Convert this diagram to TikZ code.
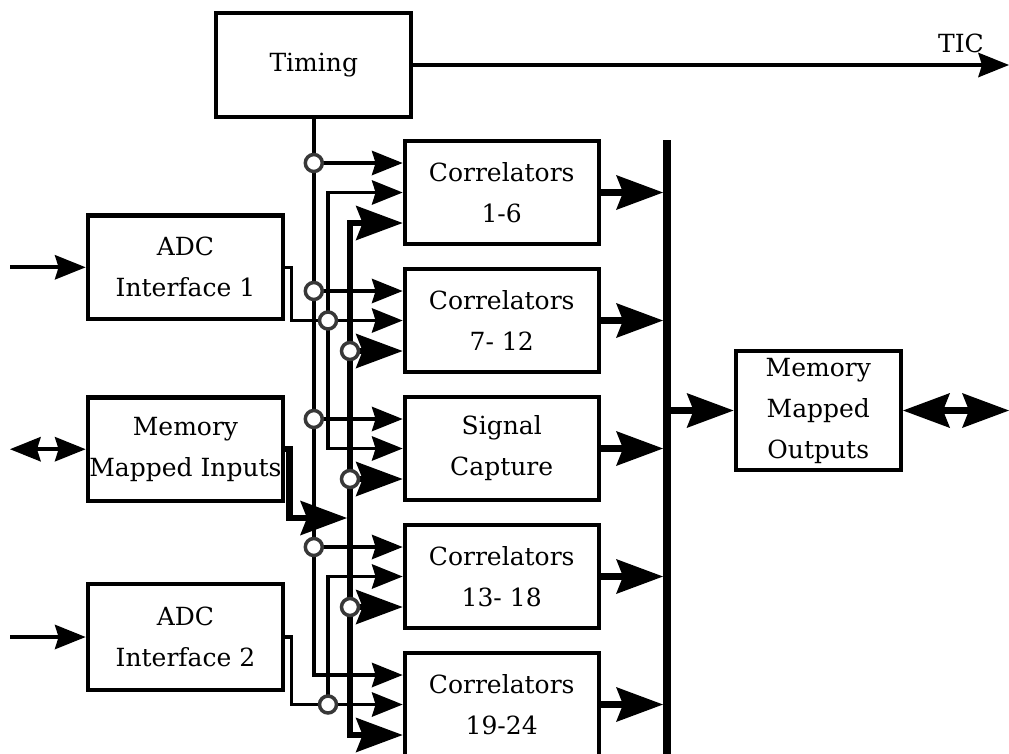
\documentclass[tikz,border=0pt]{standalone}
\usepackage{fontspec}
\setmainfont{DejaVu Serif}
\usetikzlibrary{arrows.meta}
\tikzset{
  box/.style={draw, line width=4.2pt, inner sep=0pt, align=center,
    font=\fontsize{25}{41}\selectfont},
  corr/.style={box, minimum width=194pt, minimum height=103pt},
  left box/.style={box, minimum width=195.6pt, minimum height=103.5pt},
  label text/.style={inner sep=0pt, font=\fontsize{25}{30}\selectfont},
  wire/.style={line width=3.4pt},
  fat/.style={line width=6.5pt},
  input/.style={line width=3.8pt},
  jn/.style={circle, draw=black!78, fill=white, line width=3.5pt,
    minimum size=17pt, inner sep=0pt},
  thinhead/.tip={Stealth[length=31pt, width=25pt, inset=4pt, line width=0pt]},
  bighead/.tip={Stealth[length=47pt, width=35pt, inset=7pt, line width=0pt]},
}
\begin{document}
\begin{tikzpicture}[x=1pt, y=-1pt]
\useasboundingbox (0,0) rectangle (1009,753);
\clip (0,0) rectangle (1009,753);

% ---- blocks ----
\node[box, minimum width=195pt, minimum height=104pt] (timing) at (313.8,65) {Timing};
\node[left box] (adc1) at (185.5,267.3) {ADC\\Interface 1};
\node[left box] (mmi)  at (185.5,449.2) {Memory\\Mapped Inputs};
\node[left box, minimum height=106pt] (adc2) at (185.5,637) {ADC\\Interface 2};
\node[corr] (c1) at (501.7,192.5) {Correlators\\1-6};
\node[corr] (c2) at (501.7,320.5) {Correlators\\7- 12};
\node[corr] (sc) at (501.7,448.5) {Signal\\Capture};
\node[corr] (c3) at (501.7,576.5) {Correlators\\13- 18};
\node[corr] (c4) at (501.7,704.5) {Correlators\\19-24};
\node[box, minimum width=165.3pt, minimum height=119.5pt] (mmo) at (818.3,410.5)
  {Memory\\Mapped\\Outputs};
\node[label text] (tic) at (961,43) {TIC};

% ---- reference points ----
\coordinate (redge) at (1009,0);
\coordinate (ledge) at (10,0);
\coordinate (busL) at (663,0);
\coordinate (bustop) at (667,140);
\coordinate (busbot) at (667,760);
% timing fan-out
\coordinate (tj1) at (313.8,163);
\coordinate (tj2) at (313.8,291);
\coordinate (tj3) at (313.8,419);
\coordinate (tj4) at (313.8,547);
\coordinate (tj5) at (313.8,675);
% ADC taps
\coordinate (a1j) at (328,320.5);
\coordinate (a2j) at (328,704.5);
% memory mapped input bus
\coordinate (f1) at (350,223);
\coordinate (f2) at (350,351);
\coordinate (f3) at (350,479);
\coordinate (f4) at (350,607);
\coordinate (f5) at (350,735);
\coordinate (mj) at (347,518);

% ---- timing distribution ----
\draw[wire, -{thinhead}] (timing.east) -- (timing.east -| redge);
\draw[wire, -{thinhead}] (timing.south) |- (tj5 -| c4.west);
\foreach \j/\b in {tj1/c1, tj2/c2, tj3/sc, tj4/c3}
  \draw[wire, -{thinhead}] (\j) -- (\j -| \b.west);

% ---- ADC interface 1 ----
\draw[input, -{thinhead}] (ledge |- adc1.west) -- (adc1.west);
\draw[wire] (adc1.east) -- ++(6,0) |- (a1j);
\draw[wire, -{thinhead}] (a1j) |- (c1.west);
\draw[wire, -{thinhead}] (a1j) |- (sc.west);
\draw[wire, -{thinhead}] (a1j) -- (c2.west);

% ---- ADC interface 2 ----
\draw[input, -{thinhead}] (ledge |- adc2.west) -- (adc2.west);
\draw[wire] (adc2.east) -- ++(6,0) |- (a2j);
\draw[wire, -{thinhead}] (a2j) |- (c3.west);
\draw[wire, -{thinhead}] (a2j) -- (c4.west);

% ---- memory mapped inputs ----
\draw[input, {thinhead}-{thinhead}] (ledge |- mmi.west) -- (mmi.west);
\draw[fat, -{bighead}] (f3) |- (f1 -| c1.west);
\draw[fat, -{bighead}] (f3) |- (f5 -| c4.west);
\foreach \j/\b in {f2/c2, f3/sc, f4/c3}
  \draw[fat, -{bighead}] (\j) -- (\j -| \b.west);
\draw[fat, -{bighead}] (mmi.east) -- ++(4,0) |- (mj);

% ---- output bus ----
\draw[line width=8pt] (bustop) -- (busbot);
\foreach \b in {c1, c2, sc, c3, c4}
  \draw[fat, -{bighead}] (\b.east) -- (\b.east -| busL);
\draw[fat, -{bighead}] (mmo.west -| bustop) -- (mmo.west);
\draw[fat, {bighead}-{bighead}] (mmo.east) -- (mmo.east -| redge);

% ---- junction dots ----
\foreach \j in {tj1, tj2, tj3, tj4, a1j, a2j, f2, f3, f4}
  \node[jn] (dot-\j) at (\j) {};
\end{tikzpicture}
\end{document}
